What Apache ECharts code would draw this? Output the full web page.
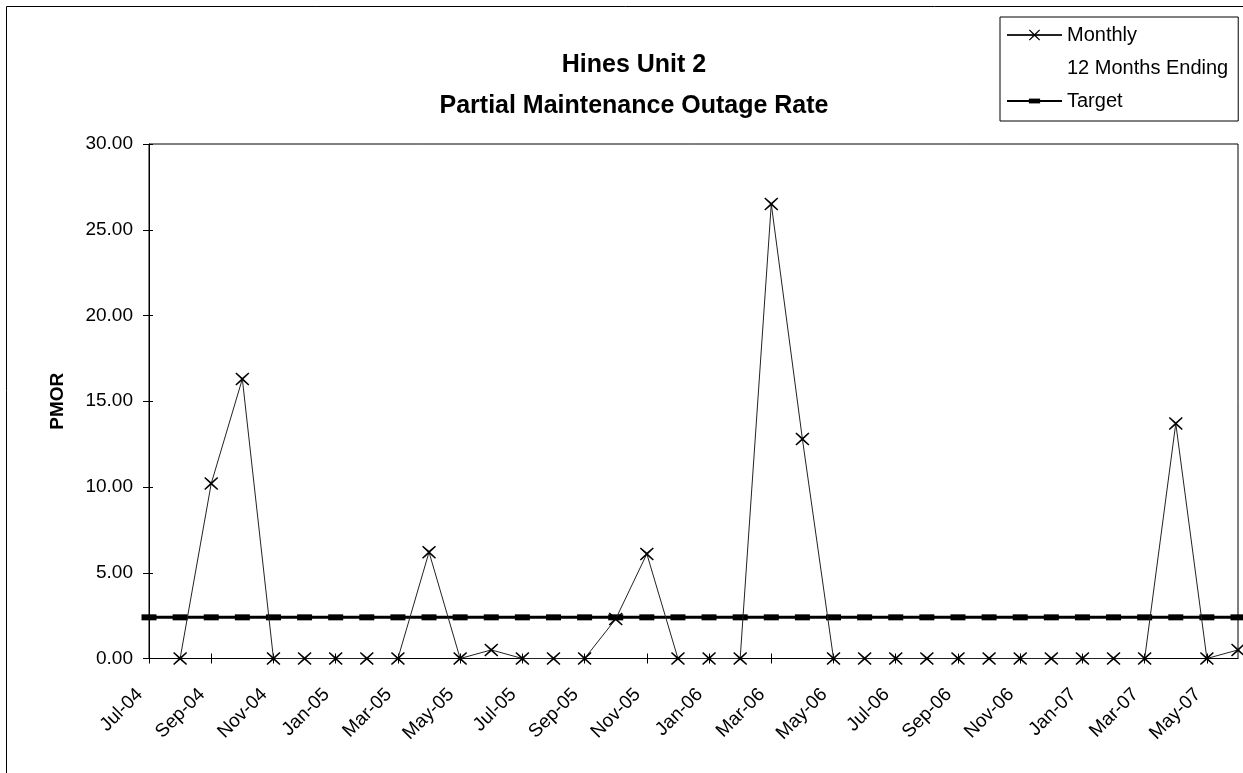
<!DOCTYPE html>
<html>
<head>
<meta charset="utf-8">
<script src="https://cdn.jsdelivr.net/npm/echarts@6/dist/echarts.min.js"></script>
<style>
  html, body { margin: 0; padding: 0; background: #fff; }
  #chart { width: 1243px; height: 773px; }
</style>
</head>
<body>
<div id="chart"></div>
<script>
// ---- data ----
const months = ['Jul-04','Aug-04','Sep-04','Oct-04','Nov-04','Dec-04',
  'Jan-05','Feb-05','Mar-05','Apr-05','May-05','Jun-05','Jul-05','Aug-05','Sep-05','Oct-05','Nov-05','Dec-05',
  'Jan-06','Feb-06','Mar-06','Apr-06','May-06','Jun-06','Jul-06','Aug-06','Sep-06','Oct-06','Nov-06','Dec-06',
  'Jan-07','Feb-07','Mar-07','Apr-07','May-07','Jun-07'];
const monthly = [null, 0, 10.2, 16.3, 0, 0,
  0, 0, 0, 6.2, 0, 0.5, 0, 0, 0, 2.3, 6.1, 0,
  0, 0, 26.5, 12.8, 0, 0, 0, 0, 0, 0, 0, 0,
  0, 0, 0, 13.7, 0, 0.5];
const twelveMonthsEnding = [];
const target = [2.4, 2.4, 2.4, 2.4, 2.4, 2.4,
  2.4, 2.4, 2.4, 2.4, 2.4, 2.4, 2.4, 2.4, 2.4, 2.4, 2.4, 2.4,
  2.4, 2.4, 2.4, 2.4, 2.4, 2.4, 2.4, 2.4, 2.4, 2.4, 2.4, 2.4,
  2.4, 2.4, 2.4, 2.4, 2.4, 2.4];
const yTicks = { min: 0, max: 30, interval: 5 };
const titleLines = ['Hines Unit 2', 'Partial Maintenance Outage Rate'];
const seriesNames = ['Monthly', '12 Months Ending', 'Target'];

// ---- chart ----
const FONT = "'Liberation Sans', Arial, sans-serif";
const xMark = 'path://M1,0 L7,5.2 L13,0 L14,1 L8.2,6.5 L14,12 L13,13 L7,7.8 L1,13 L0,12 L5.8,6.5 L0,1 Z';
// horizontal bar inside a square box (degenerate sub-paths keep the box square)
const barMark = 'path://M0,0 L0,0 M15,14 L15,14 M0,4 L15,4 L15,10 L0,10 Z';

const yAxisBase = {
  type: 'value', min: yTicks.min, max: yTicks.max, interval: yTicks.interval,
  splitLine: { show: false }
};

const chart = echarts.init(document.getElementById('chart'), null, { renderer: 'canvas' });
chart.setOption({
  animation: false,
  backgroundColor: '#fff',
  textStyle: { fontFamily: FONT, color: '#000' },
  graphic: [{
    type: 'rect', z: -1, silent: true,
    shape: { x: 6.5, y: 6.5, width: 1300, height: 800 },
    style: { fill: 'none', stroke: '#000', lineWidth: 1 }
  }],
  title: {
    text: titleLines.join('\n'),
    left: 629, top: 40, textAlign: 'center',
    textStyle: { fontFamily: FONT, fontSize: 25, fontWeight: 'bold', color: '#000', lineHeight: 41 }
  },
  legend: {
    orient: 'vertical', left: 1000, top: 17,
    padding: [8, 10, 10, 6], itemGap: 13, itemWidth: 55, itemHeight: 14,
    borderColor: '#000', borderWidth: 1, backgroundColor: '#fff',
    textStyle: { fontFamily: FONT, fontSize: 20, color: '#000', lineHeight: 20 },
    data: seriesNames
  },
  grid: {
    left: 149, right: 5, top: 144, bottom: 114.5,
    show: true, borderColor: '#000', borderWidth: 1
  },
  xAxis: [{
    type: 'category', data: months, boundaryGap: false,
    axisLine: { lineStyle: { color: '#000', width: 1 } },
    axisTick: { interval: 1, length: 5, lineStyle: { color: '#000' } },
    axisLabel: { interval: 1, rotate: 45, margin: 24, padding: [0, 13, 0, 0],
      fontSize: 19, color: '#000', fontFamily: FONT },
    splitLine: { show: false }
  }, {
    type: 'category', data: months, boundaryGap: false, position: 'bottom',
    axisLine: { show: false },
    axisTick: { interval: 1, length: 5, inside: true, lineStyle: { color: '#000' } },
    axisLabel: { show: false },
    splitLine: { show: false }
  }],
  yAxis: [Object.assign({}, yAxisBase, {
    name: 'PMOR', nameLocation: 'middle', nameRotate: 90, nameGap: 82,
    nameTextStyle: { fontFamily: FONT, fontSize: 19, fontWeight: 'bold', color: '#000' },
    axisLine: { show: true, lineStyle: { color: '#000', width: 1 } },
    axisTick: { show: true, length: 6, lineStyle: { color: '#000' } },
    axisLabel: { margin: 16, fontSize: 19, color: '#000', fontFamily: FONT,
      formatter: v => v.toFixed(2) }
  }), Object.assign({}, yAxisBase, {
    position: 'left', offset: 0,
    axisLine: { show: false },
    axisTick: { show: true, inside: true, length: 4, lineStyle: { color: '#000' } },
    axisLabel: { show: false }
  })],
  series: [
    {
      name: seriesNames[0], type: 'line', data: monthly,
      symbol: xMark, symbolSize: [14, 13], showAllSymbol: true,
      lineStyle: { color: '#222', width: 1 },
      itemStyle: { color: '#000' },
      z: 3
    },
    {
      name: seriesNames[1], type: 'line', data: twelveMonthsEnding,
      symbol: 'none',
      lineStyle: { color: 'rgba(0,0,0,0)', width: 1 },
      itemStyle: { color: 'rgba(0,0,0,0)' }
    },
    {
      name: seriesNames[2], type: 'line', data: target,
      symbol: barMark, symbolSize: [15, 14], showAllSymbol: true,
      lineStyle: { color: '#000', width: 3 },
      itemStyle: { color: '#000' },
      z: 2
    }
  ]
});
</script>
</body>
</html>
